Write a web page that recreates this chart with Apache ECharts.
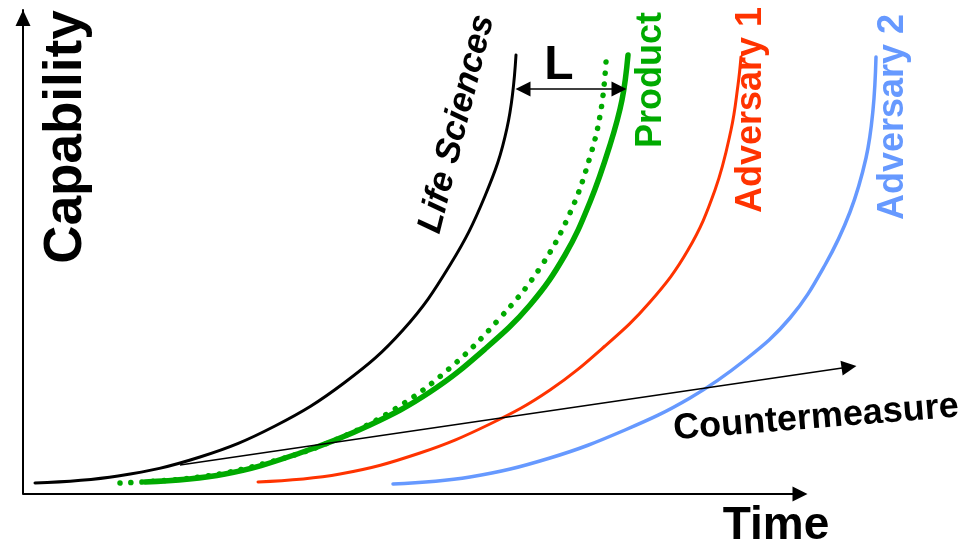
<!DOCTYPE html>
<html>
<head>
<meta charset="utf-8">
<script src="https://cdn.jsdelivr.net/npm/echarts@6/dist/echarts.min.js"></script>
<style>
  html, body { margin: 0; padding: 0; background: #fff; }
  #chart { width: 976px; height: 546px; }
</style>
</head>
<body>
<div id="chart"></div>
<script>
// curves (x = time, y = capability)
const lifeX = [12, 95, 177, 252, 321, 380, 427, 462, 484, 493]
const lifeY = [11, 18, 37, 68, 111, 164, 229, 298, 366, 439]

const productX = [122, 202, 277, 347, 407, 462, 507, 542, 567, 587, 599, 605]
const productY = [12, 20, 41, 69, 102, 145, 189, 239, 292, 349, 394, 439]

const dottedX = [97, 177, 247, 312, 372, 427, 477, 517, 547, 567, 578, 583]
const dottedY = [11, 17, 32, 54, 85, 126, 176, 226, 281, 337, 384, 432]

const adv1X = [235, 317, 397, 467, 527, 582, 627, 665, 692, 708, 715, 718]
const adv1Y = [12, 20, 41, 70, 104, 148, 192, 244, 304, 364, 409, 437]

const adv2X = [370, 447, 527, 602, 667, 722, 767, 802, 827, 843, 850, 853]
const adv2Y = [10, 17, 36, 64, 96, 134, 176, 229, 282, 336, 384, 437]

// countermeasure arrow, the "L" gap and the time axis arrow
const counterX = [157, 826]
const counterY = [29, 127]
const gapX = [500, 596]
const gapY = [405, 405]
const timeAxisX = [0, 777]
const timeAxisY = [0, 0]

function pairs(xs, ys) {
    return xs.map(function (x, i) { return [x, ys[i]] })
}

function curve(name, xs, ys, color, width, type) {
    return {
        name: name,
        type: 'line',
        data: pairs(xs, ys),
        smooth: 0.4,
        symbol: 'none',
        clip: false,
        lineStyle: { color: color, width: width, type: type || 'solid', cap: 'round' },
        z: 3
    }
}

function arrowLine(xs, ys, symbols, width) {
    return {
        type: 'line',
        data: [],
        markLine: {
            silent: true,
            animation: false,
            symbol: symbols,
            symbolSize: 15,
            label: { show: false },
            emphasis: { disabled: true },
            lineStyle: { color: '#000', width: width, type: 'solid' },
            data: [[{ coord: [xs[0], ys[0]] }, { coord: [xs[1], ys[1]] }]]
        }
    }
}

function label(text, x, y, rot, size, color, italic) {
    return {
        type: 'text',
        x: x,
        y: y,
        rotation: rot,
        style: {
            text: text,
            fill: color,
            font: (italic ? 'italic ' : '') + 'bold ' + size + 'px "Liberation Sans", Arial, sans-serif',
            align: 'center',
            verticalAlign: 'middle'
        }
    }
}

const option = {
    animation: false,
    backgroundColor: '#fff',
    grid: { left: 23, top: 10, right: 0, bottom: 52 },
    xAxis: {
        type: 'value', min: 0, max: 953,
        axisLine: { show: false },
        axisTick: { show: false }, axisLabel: { show: false }, splitLine: { show: false }
    },
    yAxis: {
        type: 'value', min: 0, max: 484,
        axisLine: {
            show: true,
            onZero: false,
            symbol: ['none', 'triangle'],
            symbolSize: [15, 16],
            symbolOffset: [0, -8],
            lineStyle: { color: '#000', width: 2 }
        },
        axisTick: { show: false }, axisLabel: { show: false }, splitLine: { show: false }
    },
    series: [
        arrowLine(timeAxisX, timeAxisY, ['none', 'triangle'], 2),
        arrowLine(counterX, counterY, ['none', 'triangle'], 1.5),
        arrowLine(gapX, gapY, ['triangle', 'triangle'], 1.5),
        curve('Life Sciences', lifeX, lifeY, '#000000', 3),
        curve('Product (dotted)', dottedX, dottedY, '#00aa00', 5.5, [0.1, 11]),
        curve('Product', productX, productY, '#00aa00', 5.5),
        curve('Adversary 1', adv1X, adv1Y, '#ff3300', 3),
        curve('Adversary 2', adv2X, adv2Y, '#6699ff', 3.5)
    ],
    graphic: [
        label('Capability', 66, 137, Math.PI / 2, 53, '#000'),
        label('Time', 776, 526, 0, 46, '#000'),
        label('Countermeasure', 816, 418, 0.08, 36, '#000'),
        label('Life Sciences', 457, 124, 1.326, 35, '#000', true),
        label('Product', 651, 80, Math.PI / 2, 36, '#00aa00'),
        label('Adversary 1', 751, 110, Math.PI / 2, 36, '#ff3300'),
        label('Adversary 2', 893, 117, Math.PI / 2, 36, '#6699ff'),
        label('L', 559, 66, 0, 48, '#000')
    ]
}

const chart = echarts.init(document.getElementById('chart'))
chart.setOption(option)
window.onresize = function () {
    chart.resize()
}
</script>
</body>
</html>
